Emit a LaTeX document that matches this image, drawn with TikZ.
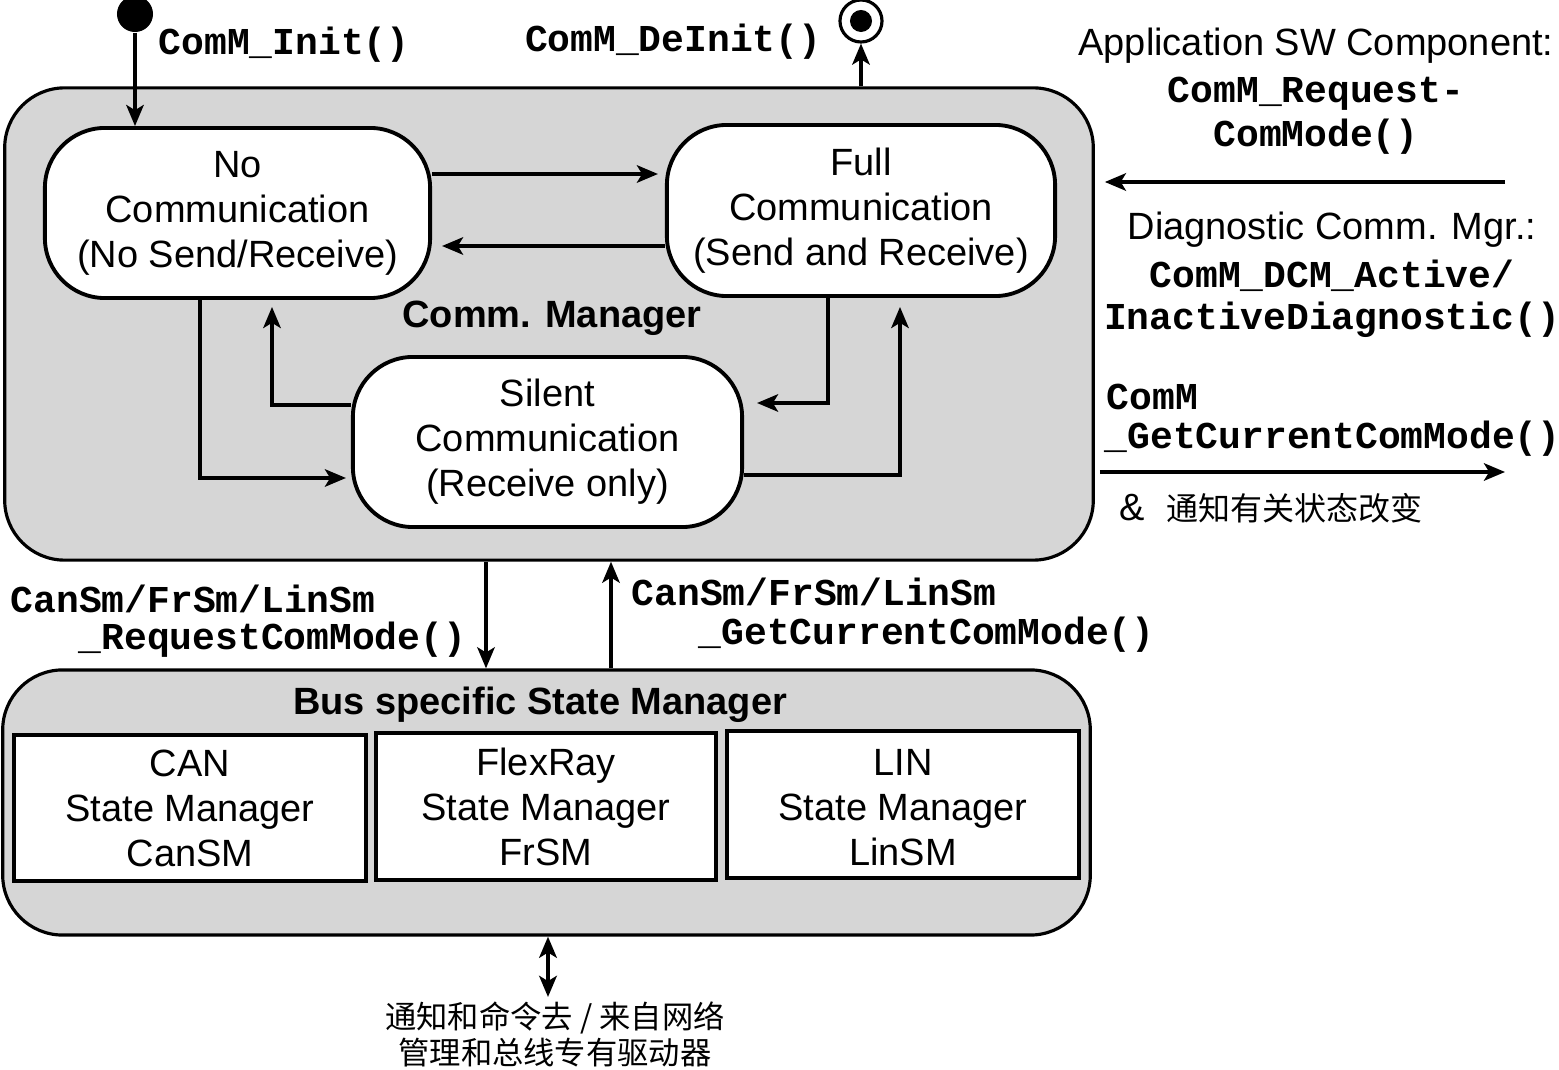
\documentclass[tikz,border=0pt]{standalone}
\usepackage{fontspec}
\setmainfont{Liberation Sans}
\newfontfamily\monof{Liberation Mono}
\newfontfamily\cjk{Noto Sans CJK SC}
\usetikzlibrary{arrows.meta}
\definecolor{boxgray}{RGB}{214,214,214}
\newcommand\sftxt{\fontsize{10.8}{12.8}\selectfont}
\newcommand\mtxt{\monof\bfseries\fontsize{10.8}{12.6}\selectfont}
\begin{document}
\begin{tikzpicture}[x=0.01cm,y=-0.01cm,
  arr/.style={line width=0.9pt,-{Stealth[length=6pt,width=5pt,inset=1.5pt]}},
  grpbox/.style={draw,line width=0.9pt,fill=boxgray,rounded corners=0.6cm,inner sep=0},
  stbox/.style={draw,line width=1.1pt,fill=white,rounded corners=0.6cm,align=center,font=\sftxt,inner sep=0},
  smbox/.style={draw,line width=1.2pt,fill=white,align=center,font=\sftxt,inner sep=0},
  lbl/.style={inner sep=0,font=\sftxt,align=center},
  mlbl/.style={inner sep=0,font=\mtxt,align=center}]
\useasboundingbox (0,0) rectangle (1559,1070);

% group boxes
\node[grpbox,minimum width=10.88cm,minimum height=4.72cm] (cm) at (549,324) {};
\node[grpbox,minimum width=10.87cm,minimum height=2.65cm] (bus) at (546.5,802.5) {};

% states
\node[stbox,minimum width=3.85cm,minimum height=1.70cm] (nocomm) at (237.5,213) {No\\Communication\\(No Send/Receive)};
\node[stbox,minimum width=3.88cm,minimum height=1.71cm] (fullcomm) at (861,210.5) {Full\\Communication\\(Send and Receive)};
\node[stbox,minimum width=3.89cm,minimum height=1.70cm] (silent) at (547.5,442) {Silent\\Communication\\(Receive only)};
\node[lbl,font=\sftxt\bfseries] (cmtitle) at (552,318) {Comm. Manager};

% bus specific managers
\node[lbl,font=\sftxt\bfseries] (bustitle) at (540,705) {Bus specific State Manager};
\node[smbox,minimum width=3.52cm,minimum height=1.46cm] (can) at (190,808) {CAN\\State Manager\\CanSM};
\node[smbox,minimum width=3.40cm,minimum height=1.47cm] (fr) at (546,806.5) {FlexRay\\State Manager\\FrSM};
\node[smbox,minimum width=3.52cm,minimum height=1.47cm] (lin) at (903,804.5) {\strut LIN\\State Manager\\LinSM};

% initial and final
\node[circle,fill,minimum size=0.36cm,inner sep=0] (init) at (135,14) {};
\node[circle,draw,line width=0.9pt,minimum size=0.42cm,inner sep=0] (fin) at (861,21) {};
\node[circle,fill,minimum size=0.22cm,inner sep=0] (fincore) at (fin) {};

\node[mlbl,anchor=west] (initlbl) at (158,45) {ComM\_Init()};
\node[mlbl,anchor=east] (deinitlbl) at (822,42) {ComM\_DeInit()};

% transitions
\draw[arr] (init.south) -- (init.south |- nocomm.north);
\draw[arr] (cm.north -| fin) -- (fin.south);
\draw[arr] (nocomm.east |- 0,174) -- ([xshift=-0.07cm]fullcomm.west |- 0,174);
\draw[arr] (fullcomm.west |- 0,246) -- ([xshift=0.1cm]nocomm.east |- 0,246);
\draw[arr] (nocomm.south -| 200,0) |- ([xshift=-0.05cm]silent.west |- 0,478);
\draw[arr] (silent.west |- 0,405) -| ([yshift=-0.07cm]nocomm.south -| 272,0);
\draw[arr] (fullcomm.south -| 828,0) |- ([xshift=0.13cm]silent.east |- 0,403);
\draw[arr] (silent.east |- 0,475) -| ([yshift=-0.09cm]fullcomm.south -| 900,0);

% right side interfaces
\node[lbl] (applbl) at (1316,46) {Application SW Component:};
\node[mlbl] (reqlbl1) at (1316,94) {ComM\_Request-};
\node[mlbl] (reqlbl2) at (1316,137) {ComMode()};
\coordinate (appsrc) at (1505,182);
\draw[arr] (appsrc) -- ([xshift=0.1cm]cm.east |- appsrc);
\node[lbl] (dcmlbl) at (1332,230) {Diagnostic Comm. Mgr.:};
\node[mlbl] (dcmlbl1) at (1332,276) {ComM\_DCM\_Active/};
\node[mlbl] (dcmlbl2) at (1332,320) {InactiveDiagnostic()};
\node[mlbl,anchor=west] (getlbl1) at (1106,397) {ComM};
\node[mlbl,anchor=west] (getlbl2) at (1104,439) {\_GetCurrentComMode()};
\coordinate (outend) at (1505,472);
\draw[arr] ([xshift=0.05cm]cm.east |- outend) -- (outend);
\node[lbl,anchor=west] (notelbl) at (1119,508) {\&\hspace{6pt}{\cjk\fontsize{9.1}{11}\selectfont 通知有关状态改变}};

% bus interfaces
\draw[arr] (cm.south -| 486,0) -- (bus.north -| 486,0);
\draw[arr] (bus.north -| 611,0) -- (cm.south -| 611,0);
\node[mlbl,anchor=west] (busreq1) at (10,599) {CanSm/FrSm/LinSm};
\node[mlbl,anchor=west] (busreq2) at (78,640) {\_RequestComMode()};
\node[mlbl,anchor=west] (busget1) at (631,592) {CanSm/FrSm/LinSm};
\node[mlbl,anchor=west] (busget2) at (698,635) {\_GetCurrentComMode()};

% network
\coordinate (netend) at (548,997);
\draw[line width=1.3pt,{Stealth[length=6pt,width=5pt,inset=1.5pt]}-{Stealth[length=6pt,width=5pt,inset=1.5pt]}] (bus.south -| netend) -- (netend);
\node[inner sep=0,font=\cjk\fontsize{8.9}{10}\selectfont] (net1) at (555,1018) {通知和命令去 / 来自网络};
\node[inner sep=0,font=\cjk\fontsize{8.9}{10}\selectfont] (net2) at (555,1053) {管理和总线专有驱动器};
\end{tikzpicture}
\end{document}
